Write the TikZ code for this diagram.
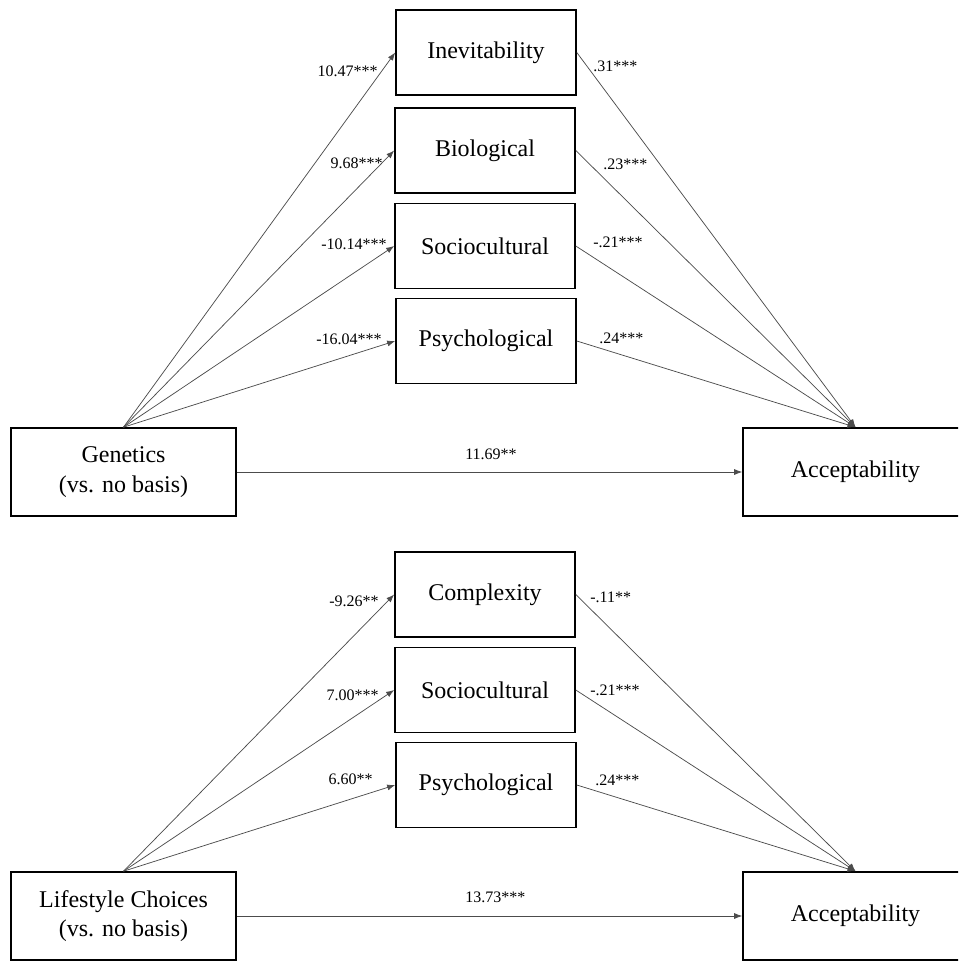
\documentclass[tikz,border=0pt]{standalone}
\usepackage{fontspec}
\setmainfont{Liberation Serif}
\usetikzlibrary{arrows.meta}

\begin{document}
\begin{tikzpicture}[x=0.75pt, y=-0.75pt,
    box/.style={draw, line width=1.2pt, minimum width=135pt, minimum height=63.75pt,
        inner sep=0pt, align=center, font=\fontsize{18}{22}\selectfont},
    endbox/.style={box, minimum width=168.75pt, minimum height=66pt},
    link/.style={draw=black!70, line width=0.55pt, -{Latex[length=6pt,width=4.5pt]}},
    coef/.style={inner sep=0pt, font=\fontsize{12}{14}\selectfont}]
    \clip (0,0) rectangle (958,961);

    % top model
    \node[endbox] (gen) at (123.5,472) {Genetics\\(vs. no basis)};
    \node[endbox] (acc1) at (855.5,472) {Acceptability};
    \node[box] (inev) at (486,52.5) {Inevitability};
    \node[box] (bio) at (485,150.5) {Biological};
    \node[box] (soc1) at (485,246) {Sociocultural};
    \node[box] (psy1) at (486,341) {Psychological};

    \draw[link] (gen.north) -- (inev.west);
    \draw[link] (gen.north) -- (bio.west);
    \draw[link] (gen.north) -- (soc1.west);
    \draw[link] (gen.north) -- (psy1.west);
    \draw[link] (inev.east) -- (acc1.north);
    \draw[link] (bio.east) -- (acc1.north);
    \draw[link] (soc1.east) -- (acc1.north);
    \draw[link] (psy1.east) -- (acc1.north);
    \draw[link] (gen.east) -- (acc1.west);

    \node[coef, anchor=east] at (378,71) {10.47***};
    \node[coef, anchor=east] at (383,163) {9.68***};
    \node[coef, anchor=east] at (387,244) {-10.14***};
    \node[coef, anchor=east] at (382,339) {-16.04***};
    \node[coef, anchor=west] at (593,66) {.31***};
    \node[coef, anchor=west] at (603,164) {.23***};
    \node[coef, anchor=west] at (593,242) {-.21***};
    \node[coef, anchor=west] at (599,338) {.24***};
    \node[coef, anchor=west] at (465,454) {11.69**};

    % bottom model
    \node[endbox] (life) at (123.5,916) {Lifestyle Choices\\(vs. no basis)};
    \node[endbox] (acc2) at (855.5,916) {Acceptability};
    \node[box] (comp) at (485,594.5) {Complexity};
    \node[box] (soc2) at (485,690) {Sociocultural};
    \node[box] (psy2) at (486,785) {Psychological};

    \draw[link] (life.north) -- (comp.west);
    \draw[link] (life.north) -- (soc2.west);
    \draw[link] (life.north) -- (psy2.west);
    \draw[link] (comp.east) -- (acc2.north);
    \draw[link] (soc2.east) -- (acc2.north);
    \draw[link] (psy2.east) -- (acc2.north);
    \draw[link] (life.east) -- (acc2.west);

    \node[coef, anchor=east] at (379,601) {-9.26**};
    \node[coef, anchor=east] at (379,695) {7.00***};
    \node[coef, anchor=east] at (373,779) {6.60**};
    \node[coef, anchor=west] at (590,597) {-.11**};
    \node[coef, anchor=west] at (590,690) {-.21***};
    \node[coef, anchor=west] at (595,780) {.24***};
    \node[coef, anchor=west] at (465,897) {13.73***};
\end{tikzpicture}
\end{document}
